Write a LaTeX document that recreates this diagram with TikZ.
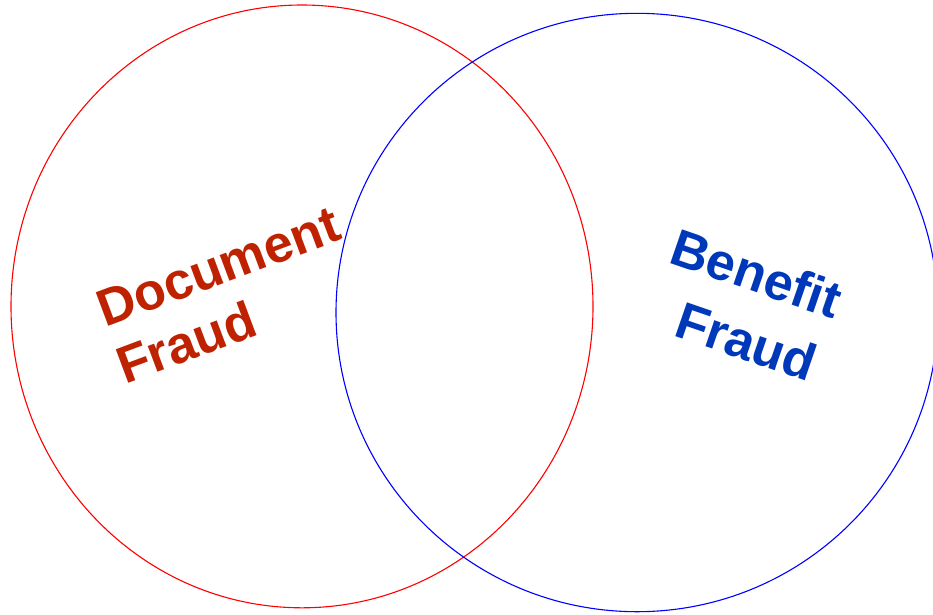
\documentclass[tikz,border=0pt]{standalone}
\usepackage{fontspec}
\setmainfont{Liberation Sans}
\definecolor{docred}{RGB}{190,34,0}
\definecolor{benblue}{RGB}{0,56,186}
\tikzset{
  ring/.style={line width=1.1pt},
  lbl/.style={font=\fontsize{52}{62}\selectfont\bfseries, inner sep=0pt, anchor=base west}
}
\begin{document}
\begin{tikzpicture}[x=1pt,y=-1pt]
\useasboundingbox (0,0) rectangle (933,614);
\draw[ring, red] (302,306.4) ellipse [x radius=291, y radius=301.4];
\draw[ring, blue] (637,312.5) ellipse [x radius=301, y radius=299.2];
\node[lbl, text=docred, rotate=20.5] (doc1) at (105,328) {Document};
\node[lbl, text=docred, rotate=20.5] (doc2) at (125,385) {Fraud};
\node[lbl, text=benblue, rotate=-19] (ben1) at (667,262) {Benefit};
\node[lbl, text=benblue, rotate=-19] (ben2) at (672,335) {Fraud};
\end{tikzpicture}
\end{document}
